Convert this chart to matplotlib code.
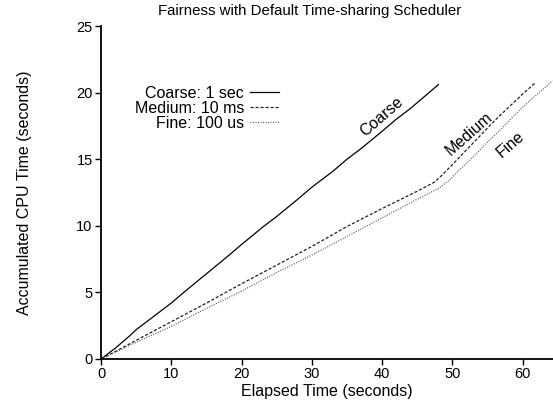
import matplotlib
matplotlib.use('Agg')
import matplotlib.pyplot as plt

plt.rcParams['font.family'] = ['Liberation Sans', 'DejaVu Sans']

# elapsed time (s) vs accumulated CPU time (s)
coarse_x = [0, 0.5, 2, 4, 5, 7, 10, 12, 15, 18, 20, 23, 25, 28, 30, 33, 35, 37, 40, 42, 44, 46, 48]
coarse_y = [0, 0.2, 0.8, 1.7, 2.2, 3.0, 4.2, 5.1, 6.4, 7.7, 8.6, 9.9, 10.7, 12.0, 12.9, 14.1, 15.0, 15.8, 17.1, 18.0, 18.8, 19.7, 20.6]

medium_x = [0, 2, 5, 10, 15, 20, 25, 30, 35, 40, 45, 47.5, 48.5, 50, 52, 54, 56, 58, 60, 61.7]
medium_y = [0, 0.55, 1.4, 2.8, 4.2, 5.65, 7.05, 8.45, 9.95, 11.3, 12.6, 13.3, 13.8, 14.6, 15.7, 16.8, 17.9, 18.9, 19.9, 20.7]

fine_x = [0, 2, 5, 10, 15, 20, 25, 30, 35, 40, 45, 48, 49.5, 51, 53, 55, 57, 59, 61, 63, 64.2]
fine_y = [0, 0.5, 1.25, 2.45, 3.8, 5.1, 6.5, 7.8, 9.2, 10.6, 12.0, 12.8, 13.4, 14.2, 15.2, 16.3, 17.3, 18.4, 19.4, 20.3, 20.9]

labels = ['Coarse: 1 sec', 'Medium: 10 ms', 'Fine: 100 us']

fig = plt.figure(figsize=(5.53, 4.04), dpi=100)
ax = fig.add_axes([101/553, 45/404, 452/553, 333/404])

ax.plot(coarse_x, coarse_y, color='black', lw=0.9, label=labels[0])
ax.plot(medium_x, medium_y, color='#222222', lw=0.9, dashes=(2.5, 1.5), label=labels[1])
ax.plot(fine_x, fine_y, color='#555555', lw=0.9, dashes=(0.8, 1.2), label=labels[2])

ax.set_xlim(0, 64.3)
ax.set_ylim(0, 25)
ax.set_xticks([0, 10, 20, 30, 40, 50, 60])
ax.set_yticks([0, 5, 10, 15, 20, 25])
for s in ['top', 'right']:
    ax.spines[s].set_visible(False)
for s in ['left', 'bottom']:
    ax.spines[s].set_linewidth(1.3)
ax.tick_params(direction='out', length=4, width=1, labelsize=10.5, pad=2)

ax.set_xlabel('Elapsed Time (seconds)', fontsize=11.5, labelpad=2)
ax.set_ylabel('Accumulated CPU Time (seconds)', fontsize=11.5, labelpad=32)
fig.text(310/553, 1 - 11/404, 'Fairness with Default Time-sharing Scheduler',
         ha='center', va='center', fontsize=10.8)

ax.legend(loc='upper left', bbox_to_anchor=(0.06, 0.84), frameon=False,
          markerfirst=False, fontsize=11.5, handlelength=1.8,
          labelspacing=0.0, handletextpad=0.4, borderaxespad=0)
leg = ax.get_legend()
for t in leg.get_texts():
    t.set_ha('right')
leg._legend_box.align = 'right'

ax.text(40.0, 18.2, 'Coarse', rotation=41, ha='center', va='center', fontsize=11.5)
ax.text(52.3, 16.9, 'Medium', rotation=41.5, ha='center', va='center', fontsize=11.5)
ax.text(58.2, 16.1, 'Fine', rotation=41, ha='center', va='center', fontsize=11.5)

plt.savefig('out.png', dpi=100)
